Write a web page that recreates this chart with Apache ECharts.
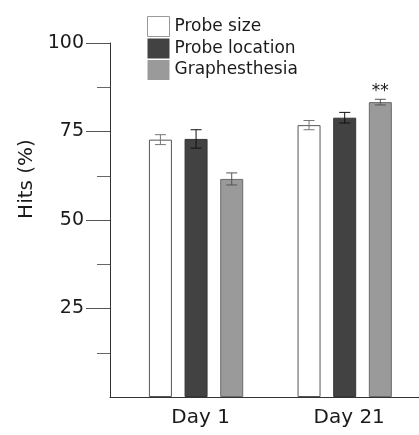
<!DOCTYPE html>
<html>
<head>
<meta charset="utf-8">
<script src="https://cdn.jsdelivr.net/npm/echarts@6/dist/echarts.min.js"></script>
<style>html,body{margin:0;padding:0;background:#fff}#c{width:419px;height:435px}</style>
</head>
<body>
<div id="c"></div>
<script>
const categories = ['Day 1', 'Day 21'];
const seriesNames = ['Probe size', 'Probe location', 'Graphesthesia'];
const probeSize = [72.7, 76.8];
const probeSizeErr = [1.4, 1.3];
const probeLocation = [72.9, 78.9];
const probeLocationErr = [2.6, 1.5];
const graphesthesia = [61.6, 83.3];
const graphesthesiaErr = [1.7, 0.8];
const significance = ['', '**'];
const yTickValues = [25, 50, 75, 100];
const yMinorTickValues = [12.5, 37.5, 62.5, 87.5];

const FONT = 'DejaVu Sans';
const TXT = '#1a1a1a';
const BAR_W = 23;
const BAR_GAP = 0.55;
const fills = ['#ffffff', '#424242', '#9a9a9a'];
const borders = ['#555555', '#353535', '#6a6a6a'];
const legendBorders = [1, 0, 0];
const errColors = ['#777777', '#111111', '#555555'];

const values = [probeSize, probeLocation, graphesthesia];
const errs = [probeSizeErr, probeLocationErr, graphesthesiaErr];

const chart = echarts.init(document.getElementById('c'), null, {renderer: 'canvas'});

const barSeries = values.map((vals, k) => ({
  name: seriesNames[k],
  type: 'bar',
  xAxisIndex: 1,
  yAxisIndex: 2,
  barWidth: BAR_W,
  barGap: (BAR_GAP * 100) + '%',
  itemStyle: {color: fills[k], borderColor: borders[k], borderWidth: 1},
  data: vals.map((v, i) => {
    const item = {value: v};
    if (k === 2 && significance[i]) {
      item.label = {show: true, position: 'top', distance: 2, formatter: significance[i],
        fontFamily: FONT, fontSize: 17, color: TXT};
    }
    return item;
  }),
  emphasis: {disabled: true},
  z: 2
}));

const errSeries = values.map((vals, k) => ({
  type: 'custom',
  xAxisIndex: 1,
  yAxisIndex: 2,
  z: 3,
  silent: true,
  data: vals.map((v, i) => [i, v, errs[k][i]]),
  renderItem: function (params, api) {
    const ci = api.value(0), v = api.value(1), e = api.value(2);
    const c = api.coord([ci, v]);
    const x = c[0] + (k - 1) * BAR_W * (1 + BAR_GAP);
    const top = api.coord([ci, v + e])[1];
    const bot = api.coord([ci, v - e])[1];
    const hw = 5.5;
    const st = {stroke: errColors[k], lineWidth: 1};
    return {
      type: 'group',
      children: [
        {type: 'line', shape: {x1: x, y1: top, x2: x, y2: bot}, style: st},
        {type: 'line', shape: {x1: x - hw, y1: top, x2: x + hw, y2: top}, style: st},
        {type: 'line', shape: {x1: x - hw, y1: bot, x2: x + hw, y2: bot}, style: st}
      ]
    };
  }
}));

chart.setOption({
  animation: false,
  backgroundColor: '#fff',
  grid: [
    {left: 110, right: 0, top: 43, bottom: 38},
    {left: 121.75, width: 303, top: 43, bottom: 38}
  ],
  legend: {
    orient: 'vertical',
    left: 147,
    top: 16,
    padding: 0,
    itemWidth: 22,
    itemHeight: 20,
    itemGap: 1.5,
    icon: 'rect',
    data: seriesNames.map((n, k) => ({
      name: n,
      itemStyle: {borderColor: '#999999', borderWidth: legendBorders[k]}
    })),
    textStyle: {fontFamily: FONT, fontSize: 17, color: TXT},
    selectedMode: false
  },
  xAxis: [
    {gridIndex: 0, type: 'value', min: 0, max: 1,
      axisLine: {show: true, onZero: false, lineStyle: {color: '#333', width: 1}},
      axisTick: {show: false}, axisLabel: {show: false}, splitLine: {show: false}},
    {gridIndex: 1, type: 'category', data: categories,
      axisLine: {show: false}, axisTick: {show: false}, splitLine: {show: false},
      axisLabel: {fontFamily: FONT, fontSize: 20, color: TXT, margin: 11, padding: [0, 0, 0, 9]}}
  ],
  yAxis: [
    {gridIndex: 0, type: 'value', min: 0, max: 100, position: 'left',
      axisLine: {show: true, lineStyle: {color: '#333', width: 1}},
      axisTick: {show: true, length: 24, customValues: yTickValues, lineStyle: {color: '#555'}},
      axisLabel: {customValues: yTickValues, margin: 26, fontFamily: FONT, fontSize: 19, color: TXT},
      splitLine: {show: false}},
    {gridIndex: 0, type: 'value', min: 0, max: 100, position: 'left',
      axisLine: {show: false},
      axisTick: {show: true, length: 13, customValues: yMinorTickValues, lineStyle: {color: '#666'}},
      axisLabel: {show: false},
      splitLine: {show: false}},
    {gridIndex: 1, type: 'value', min: 0, max: 100, show: false, splitLine: {show: false}}
  ],
  graphic: [{
    type: 'text',
    x: 27, y: 179,
    rotation: Math.PI / 2,
    style: {text: 'Hits (%)', fontFamily: FONT, fontSize: 20, fill: TXT,
      align: 'center', verticalAlign: 'middle'}
  }],
  series: barSeries.concat(errSeries)
});
</script>
</body>
</html>
